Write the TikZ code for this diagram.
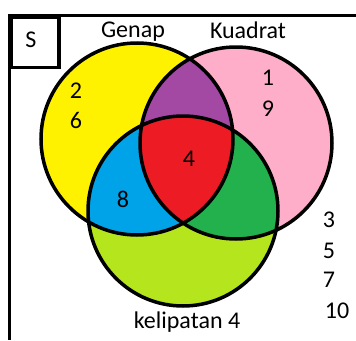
\documentclass[tikz,border=0pt]{standalone}
\usepackage{fontspec}
\setmainfont{Carlito}
\definecolor{pyellow}{RGB}{255,242,0}
\definecolor{ppink}{RGB}{255,174,201}
\definecolor{ppurple}{RGB}{163,73,164}
\definecolor{pred}{RGB}{237,28,36}
\definecolor{pblue}{RGB}{0,162,232}
\definecolor{pgreen}{RGB}{34,177,76}
\definecolor{plime}{RGB}{181,230,29}
\tikzset{
  lbl/.style={anchor=base, inner sep=0pt, font=\fontsize{24}{28}\selectfont},
  ring/.style={draw=black, line width=3.5pt},
  frame/.style={draw=black, line width=3.6pt}
}
\begin{document}
\begin{tikzpicture}[x=1pt,y=-1pt]
\useasboundingbox (0,0) rectangle (356,340);
\coordinate (cA) at (137,139);
\coordinate (cB) at (236,143);
\coordinate (cC) at (183,211);
\def\rA{96}\def\rB{96}\def\rC{95}
% base fills
\fill[pyellow] (cA) circle (\rA);
\fill[ppink] (cB) circle (\rB);
\fill[plime] (cC) circle (\rC);
\begin{scope}\clip (cA) circle (\rA); \fill[ppurple] (cB) circle (\rB); \end{scope}
\begin{scope}\clip (cA) circle (\rA); \fill[pblue] (cC) circle (\rC); \end{scope}
\begin{scope}\clip (cB) circle (\rB); \fill[pgreen] (cC) circle (\rC); \end{scope}
\begin{scope}\clip (cA) circle (\rA); \clip (cB) circle (\rB); \fill[pred] (cC) circle (\rC); \end{scope}
\draw[ring] (cA) circle (\rA);
\draw[ring] (cB) circle (\rB);
\draw[ring] (cC) circle (\rC);
% frame
\coordinate (fTL) at (9.5,15.5);
\coordinate (fTR) at (356,15.5);
\coordinate (fBL) at (9.5,340);
\draw[frame] (fTR) -- (fTL) -- (fBL);
\node[frame, minimum width=47.5pt, minimum height=50.5pt, inner sep=0pt, anchor=north west] (sbox) at (9.5,15) {};
\node[lbl] (s) at (31,47) {S};
% labels
\node[lbl] (genap) at (133,37) {Genap};
\node[lbl] (kuadrat) at (248,38) {Kuadrat};
\node[lbl] (kel) at (187,328) {kelipatan 4};
\node[lbl] (n2) at (76,98) {2};
\node[lbl] (n6) at (76,128) {6};
\node[lbl] (n1) at (268,85) {1};
\node[lbl] (n9) at (268,116) {9};
\node[lbl] (n4) at (189,166) {4};
\node[lbl] (n8) at (123,207) {8};
\node[lbl] (n3) at (329,227) {3};
\node[lbl] (n5) at (329,258) {5};
\node[lbl] (n7) at (329,287) {7};
\node[lbl] (n10) at (337,318) {10};
\end{tikzpicture}
\end{document}
